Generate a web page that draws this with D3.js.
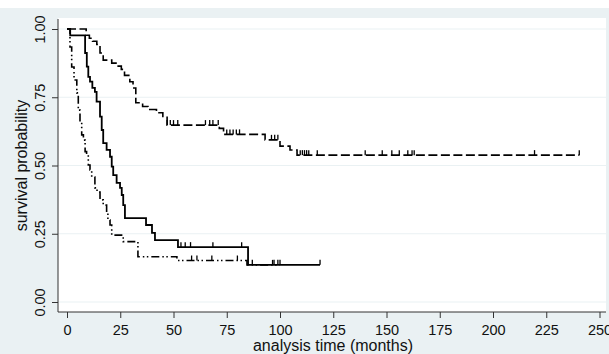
<!DOCTYPE html>
<html>
<head>
<meta charset="utf-8">
<script src="https://cdn.jsdelivr.net/npm/d3@7"></script>
<style>
  body { margin: 0; background: #fff; }
  svg { display: block; font-family: "Liberation Sans", Arial, sans-serif; }
</style>
</head>
<body>
<svg id="chart" width="609" height="354"></svg>
<script>
// Kaplan-Meier steps (time in months, survival after the event)
const timesDash = [0, 9, 10.5, 12, 14, 15.5, 17, 21, 23, 25.5, 27, 29.5, 31, 32.3, 35.5, 38, 42, 45, 47, 71.5, 73.5, 93, 100, 104.7, 108, 240.5];
const survDash = [1, 0.977, 0.966, 0.955, 0.943, 0.912, 0.886, 0.875, 0.864, 0.852, 0.83, 0.807, 0.784, 0.73, 0.716, 0.705, 0.693, 0.68, 0.648, 0.636, 0.614, 0.594, 0.571, 0.557, 0.538, 0.538];
const censorDash = [47, 48.5, 50, 52, 65, 67, 68.5, 71, 75, 76.5, 78, 79.5, 81, 96, 97.5, 99, 109.5, 110.5, 111.5, 112.5, 113.5, 117.5, 140, 148, 152.5, 156, 160, 162, 163, 219.5, 240.5];

const timesSolid = [0, 1.5, 8.5, 9.3, 10, 10.8, 11.9, 13.1, 13.9, 15.5, 16.3, 17, 18.6, 20.2, 21, 21.7, 23.3, 24.9, 25.7, 26.4, 27.2, 37.1, 39.9, 41.3, 52.1, 85, 118.8];
const survSolid = [1, 0.977, 0.912, 0.862, 0.825, 0.807, 0.784, 0.77, 0.734, 0.679, 0.63, 0.582, 0.557, 0.532, 0.496, 0.465, 0.436, 0.418, 0.392, 0.355, 0.307, 0.282, 0.253, 0.227, 0.201, 0.136, 0.136];
const censorSolid = [53.5, 55.5, 58, 68.5, 82, 118.8];

const timesDot = [0, 1.4, 2.2, 3.3, 4.6, 5.3, 6.1, 6.9, 7.7, 8.5, 9.2, 10, 10.8, 11.6, 13.1, 14.1, 15.5, 17, 18.6, 19.2, 20.2, 21, 26.4, 33.3, 51.6, 84.5, 100];
const survDot = [1, 0.934, 0.861, 0.813, 0.766, 0.703, 0.659, 0.612, 0.593, 0.551, 0.538, 0.502, 0.484, 0.458, 0.418, 0.403, 0.374, 0.355, 0.326, 0.3, 0.282, 0.245, 0.221, 0.166, 0.152, 0.136, 0.136];
const censorDot = [58.5, 61, 68, 80, 87, 96.5, 97.2, 99, 100];

const xTicks = [0, 25, 50, 75, 100, 125, 150, 175, 200, 225, 250];
const yTicks = [0, 0.25, 0.5, 0.75, 1];

const W = 609, H = 354;
const plot = {left: 58, right: 606, top: 18, bottom: 312};
const bg = "#eaf1f3";

const svg = d3.select("#chart");

// graph region + plot region
svg.append("rect").attr("x", 0).attr("y", 8).attr("width", W).attr("height", H - 8).attr("fill", bg);
svg.append("rect")
    .attr("x", plot.left).attr("y", plot.top)
    .attr("width", plot.right - plot.left).attr("height", plot.bottom - plot.top)
    .attr("fill", "#fff");

const x = d3.scaleLinear().domain([0, 250]).range([67, 599.5]);
const y = d3.scaleLinear().domain([0, 1]).range([302, 29]);

// grid
svg.append("g").selectAll("line")
    .data(yTicks)
    .join("line")
    .attr("x1", plot.left).attr("x2", plot.right)
    .attr("y1", d => y(d)).attr("y2", d => y(d))
    .attr("stroke", bg).attr("stroke-width", 1.2);

// axes
const xAxis = svg.append("g")
    .attr("transform", `translate(0, ${plot.bottom})`)
    .call(d3.axisBottom(x).tickValues(xTicks).tickSize(6).tickPadding(7).tickFormat(d3.format("d")));
xAxis.select(".domain").remove();
xAxis.selectAll("line").attr("stroke", "#333");
xAxis.selectAll("text").attr("font-size", "14.5px").attr("fill", "#111")
    .attr("font-family", "Liberation Sans, Arial, sans-serif");

const yAxis = svg.append("g")
    .attr("transform", `translate(${plot.left}, 0)`)
    .call(d3.axisLeft(y).tickValues(yTicks).tickSize(6).tickFormat(d3.format(".2f")));
yAxis.select(".domain").remove();
yAxis.selectAll("line").attr("stroke", "#333");
yAxis.selectAll("text")
    .attr("transform", "rotate(-90)")
    .attr("x", 0).attr("y", -13).attr("dy", 0)
    .attr("text-anchor", "middle")
    .attr("font-size", "14.5px").attr("fill", "#111")
    .attr("font-family", "Liberation Sans, Arial, sans-serif");

svg.append("line")
    .attr("x1", plot.left).attr("x2", plot.right)
    .attr("y1", plot.bottom).attr("y2", plot.bottom)
    .attr("stroke", "#333");
svg.append("line")
    .attr("x1", plot.left).attr("x2", plot.left)
    .attr("y1", plot.top + 1).attr("y2", plot.bottom)
    .attr("stroke", "#333");

// titles
svg.append("text")
    .attr("x", 333).attr("y", 351)
    .attr("text-anchor", "middle").attr("font-size", "16px").attr("fill", "#111")
    .text("analysis time (months)");
svg.append("text")
    .attr("transform", `translate(27, ${(y(0) + y(1)) / 2}) rotate(-90)`)
    .attr("text-anchor", "middle").attr("font-size", "16px").attr("fill", "#111")
    .text("survival probability");

// curves
const step = d3.line()
    .x(d => x(d[0]))
    .y(d => y(d[1]))
    .curve(d3.curveStepAfter);

function survAt(times, surv, t) {
    const i = d3.bisectRight(times, t) - 1;
    return surv[Math.max(0, i)];
}

function drawCurve(times, surv, censor, dash, width) {
    svg.append("path")
        .datum(times.map((t, i) => [t, surv[i]]))
        .attr("d", step)
        .attr("fill", "none")
        .attr("stroke", "#000")
        .attr("stroke-width", width)
        .attr("stroke-dasharray", dash);

    svg.append("g").selectAll("line")
        .data(censor)
        .join("line")
        .attr("x1", d => x(d)).attr("x2", d => x(d))
        .attr("y1", d => y(survAt(times, surv, d)))
        .attr("y2", d => y(survAt(times, surv, d)) - 5)
        .attr("stroke", "#000")
        .attr("stroke-width", 1.3);
}

drawCurve(timesDot, survDot, censorDot, "8,3,1.5,2.5,1.5,3", 1.6);
drawCurve(timesSolid, survSolid, censorSolid, null, 1.8);
drawCurve(timesDash, survDash, censorDash, "9,3.5", 1.6);
</script>
</body>
</html>
